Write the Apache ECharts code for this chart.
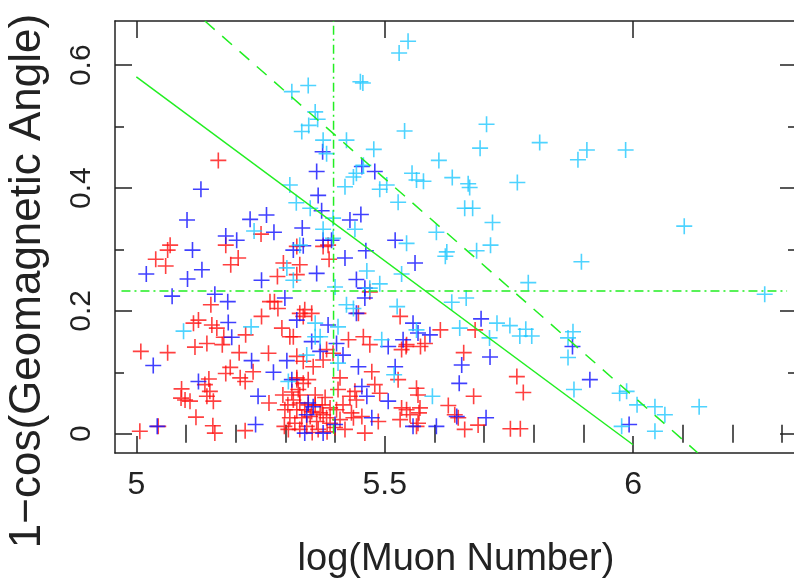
<!DOCTYPE html>
<html>
<head>
<meta charset="utf-8">
<script src="https://cdn.jsdelivr.net/npm/echarts@6/dist/echarts.min.js"></script>
<style>
  html, body { margin: 0; padding: 0; background: #fff; }
  #chart { width: 794px; height: 583px; }
</style>
</head>
<body>
<div id="chart"></div>
<script>
// tick positions
const xLabelTicks = [5, 5.5, 6];
const xMinorTicks = [5.1, 5.2, 5.3, 5.4, 5.6, 5.7, 5.8, 5.9, 6.1, 6.2, 6.3];
const yLabelTicks = [0, 0.2, 0.4, 0.6];
const yMinorTicks = [0.1, 0.3, 0.5];

// events: [log(muon number), 1-cos(geomagnetic angle)]
const redPoints = [
  [5.165, 0.445], [5.251, 0.325], [5.068, 0.307], [5.063, 0.299], [5.180, 0.307],
  [5.039, 0.284], [5.059, 0.273], [5.205, 0.286], [5.190, 0.275], [5.284, 0.256],
  [5.150, 0.210], [5.278, 0.215], [5.285, 0.204], [5.125, 0.185], [5.115, 0.180],
  [5.152, 0.177], [5.162, 0.172], [5.252, 0.191], [5.220, 0.161], [5.293, 0.172],
  [5.176, 0.157], [5.142, 0.147], [5.118, 0.141], [5.173, 0.145], [5.009, 0.134],
  [5.063, 0.132], [5.207, 0.132], [5.266, 0.131], [5.316, 0.158], [5.189, 0.108],
  [5.180, 0.098], [5.235, 0.101], [5.209, 0.091], [5.219, 0.085], [5.146, 0.089],
  [5.138, 0.080], [5.091, 0.073], [5.148, 0.069], [5.090, 0.058], [5.108, 0.053],
  [5.155, 0.053], [5.267, 0.050], [5.120, 0.027], [5.154, 0.013], [5.158, 0.001],
  [5.007, 0.004], [5.044, 0.012], [5.219, 0.005], [5.298, 0.012], [5.306, 0.007],
  [5.323, 0.088], [5.386, 0.307], [5.376, 0.305], [5.323, 0.305], [5.388, 0.284],
  [5.329, 0.275], [5.323, 0.259], [5.470, 0.231], [5.531, 0.191], [5.339, 0.202],
  [5.329, 0.196], [5.353, 0.196], [5.457, 0.158], [5.309, 0.158], [5.427, 0.153],
  [5.544, 0.145], [5.534, 0.137], [5.470, 0.145], [5.383, 0.137], [5.396, 0.131],
  [5.323, 0.126], [5.376, 0.120], [5.356, 0.109], [5.336, 0.118], [5.474, 0.101],
  [5.527, 0.088], [5.323, 0.091], [5.336, 0.082], [5.346, 0.088], [5.410, 0.091],
  [5.406, 0.072], [5.326, 0.072], [5.480, 0.080], [5.490, 0.066], [5.443, 0.055],
  [5.534, 0.042], [5.416, 0.047], [5.403, 0.039], [5.316, 0.055], [5.329, 0.050],
  [5.346, 0.047], [5.360, 0.047], [5.339, 0.039], [5.353, 0.036], [5.370, 0.034],
  [5.376, 0.031], [5.323, 0.039], [5.333, 0.026], [5.350, 0.028], [5.363, 0.020],
  [5.383, 0.026], [5.390, 0.017], [5.319, 0.017], [5.343, 0.012], [5.366, 0.007],
  [5.437, 0.026], [5.454, 0.028], [5.487, 0.020], [5.460, 0.001], [5.433, 0.034],
  [5.551, 0.031], [5.567, 0.017], [5.430, 0.061], [5.440, 0.069], [5.682, 0.169],
  [5.612, 0.169], [5.581, 0.147], [5.572, 0.142], [5.543, 0.142], [5.659, 0.132],
  [5.766, 0.093], [5.779, 0.067], [5.679, 0.061], [5.564, 0.074], [5.567, 0.063],
  [5.628, 0.046], [5.571, 0.042], [5.569, 0.034], [5.544, 0.039], [5.641, 0.031],
  [5.648, 0.026], [5.531, 0.023], [5.661, 0.007], [5.688, 0.014], [5.753, 0.008],
  [5.773, 0.008], [5.564, 0.012], [5.098, 0.055], [5.142, 0.061], [5.269, 0.215],
  [5.296, 0.278], [5.447, 0.196], [5.336, 0.191], [5.299, 0.039], [5.309, 0.026],
  [5.400, 0.010], [5.420, 0.007], [5.329, 0.007], [5.354, 0.002], [5.384, 0.003],
  [5.305, 0.047], [5.410, 0.023], [5.295, 0.063], [5.380, 0.059], [5.313, 0.068],
  [5.360, 0.063], [5.374, 0.047], [5.329, 0.063], [5.390, 0.042]
];
const bluePoints = [
  [5.130, 0.398], [5.102, 0.348], [5.229, 0.349], [5.262, 0.356], [5.277, 0.328],
  [5.113, 0.299], [5.180, 0.322], [5.202, 0.315], [5.020, 0.260], [5.103, 0.252],
  [5.132, 0.267], [5.252, 0.250], [5.072, 0.224], [5.158, 0.227], [5.184, 0.215],
  [5.299, 0.221], [5.185, 0.181], [5.192, 0.157], [5.034, 0.111], [5.232, 0.119],
  [5.303, 0.119], [5.276, 0.100], [5.125, 0.085], [5.245, 0.061], [5.042, 0.012],
  [5.240, 0.015], [5.375, 0.459], [5.454, 0.435], [5.480, 0.427], [5.366, 0.388],
  [5.373, 0.363], [5.430, 0.348], [5.452, 0.357], [5.334, 0.335], [5.376, 0.315],
  [5.393, 0.315], [5.521, 0.315], [5.316, 0.299], [5.420, 0.286], [5.462, 0.298],
  [5.363, 0.261], [5.561, 0.278], [5.443, 0.251], [5.460, 0.237], [5.460, 0.221],
  [5.443, 0.196], [5.323, 0.185], [5.386, 0.177], [5.557, 0.180], [5.353, 0.150],
  [5.403, 0.147], [5.507, 0.142], [5.537, 0.153], [5.370, 0.134], [5.416, 0.128],
  [5.447, 0.109], [5.521, 0.109], [5.313, 0.088], [5.454, 0.077], [5.464, 0.061],
  [5.507, 0.053], [5.346, 0.050], [5.356, 0.044], [5.343, 0.031], [5.339, 0.001],
  [5.376, 0.001], [5.400, 0.015], [5.474, 0.026], [5.557, 0.012], [5.694, 0.187],
  [5.591, 0.161], [5.712, 0.125], [5.655, 0.112], [5.650, 0.082], [5.645, 0.028],
  [5.704, 0.026], [5.604, 0.012], [5.878, 0.142], [5.913, 0.088], [5.992, 0.015],
  [5.363, 0.427], [5.336, 0.306], [5.567, 0.164]
];
const cyanPoints = [
  [5.547, 0.639], [5.529, 0.620], [5.451, 0.573], [5.456, 0.571], [5.313, 0.557],
  [5.346, 0.567], [5.360, 0.524], [5.365, 0.512], [5.347, 0.502], [5.333, 0.492],
  [5.540, 0.493], [5.705, 0.504], [5.812, 0.474], [5.692, 0.465], [5.423, 0.478],
  [5.376, 0.478], [5.383, 0.456], [5.478, 0.463], [5.609, 0.445], [5.457, 0.437],
  [5.443, 0.424], [5.437, 0.418], [5.309, 0.405], [5.420, 0.402], [5.490, 0.398],
  [5.504, 0.405], [5.555, 0.424], [5.564, 0.413], [5.578, 0.411], [5.636, 0.417],
  [5.668, 0.407], [5.671, 0.401], [5.767, 0.409], [5.527, 0.377], [5.322, 0.376],
  [5.661, 0.367], [5.677, 0.367], [5.717, 0.344], [5.889, 0.446], [5.907, 0.462],
  [5.985, 0.462], [6.103, 0.338], [5.604, 0.328], [5.713, 0.307], [5.544, 0.310],
  [5.625, 0.296], [5.622, 0.289], [5.685, 0.298], [5.896, 0.280], [5.789, 0.246],
  [6.265, 0.227], [5.635, 0.214], [5.664, 0.221], [5.651, 0.172], [5.711, 0.156],
  [5.726, 0.180], [5.752, 0.176], [5.784, 0.170], [5.772, 0.159], [5.796, 0.159],
  [5.879, 0.166], [5.869, 0.156], [5.869, 0.124], [5.881, 0.072], [5.596, 0.061],
  [5.973, 0.066], [5.987, 0.069], [6.008, 0.047], [6.044, 0.044], [6.064, 0.031],
  [6.133, 0.044], [5.977, 0.012], [6.044, 0.004], [5.350, 0.367], [5.396, 0.351],
  [5.440, 0.333], [5.237, 0.330], [5.376, 0.333], [5.396, 0.318], [5.329, 0.307],
  [5.316, 0.250], [5.464, 0.265], [5.534, 0.260], [5.490, 0.244], [5.400, 0.239],
  [5.470, 0.237], [5.423, 0.210], [5.437, 0.204], [5.525, 0.207], [5.360, 0.180],
  [5.406, 0.174], [5.564, 0.169], [5.370, 0.158], [5.360, 0.158], [5.494, 0.153],
  [5.343, 0.128], [5.406, 0.115], [5.519, 0.096], [5.095, 0.167], [5.231, 0.174],
  [5.306, 0.085], [5.303, 0.270]
];

// guide lines
const fitLine = [[5.0, 0.581], [6.0, -0.018]];
const cutLine = [[5.138, 0.672], [6.13, -0.031]];
const muonCut = [[5.397, 0], [5.397, 0.672]];
const angleCut = [[4.97, 0.2325], [6.31, 0.2325]];

const xRange = [4.957, 6.33];
const yRange = [-0.0314, 0.672];

const plus = "path://M7.2,0H8.8V7.2H16V8.8H8.8V16H7.2V8.8H0V7.2H7.2Z";
const frameColor = "#222";
const textColor = "#222";
const green = "#22ee22";
const font = "Liberation Sans";

function frameAxis(pos, ticks, len, extra) {
  return Object.assign({
    type: "value",
    position: pos,
    min: pos === "bottom" || pos === "top" ? xRange[0] : yRange[0],
    max: pos === "bottom" || pos === "top" ? xRange[1] : yRange[1],
    splitLine: { show: false },
    axisLine: { show: true, onZero: false, lineStyle: { color: frameColor, width: 1.5 } },
    axisTick: { show: true, inside: true, length: len, customValues: ticks,
      lineStyle: { color: frameColor, width: 1.5 } },
    axisLabel: { show: false },
  }, extra || {});
}

function scatter(name, data, color) {
  return {
    name: name,
    type: "scatter",
    data: data,
    symbol: plus,
    symbolSize: 16,
    itemStyle: { color: color },
    silent: true,
  };
}

function guide(data, type, width) {
  return {
    type: "line",
    data: data,
    symbol: "none",
    silent: true,
    lineStyle: { color: green, width: width, type: type },
    z: 5,
  };
}

const chart = echarts.init(document.getElementById("chart"));
chart.setOption({
  animation: false,
  backgroundColor: "#fff",
  grid: { left: 115, right: -3, top: 21, bottom: 130, outerBoundsMode: "none", containLabel: false },
  graphic: [
    {
      // y axis title, centred lower than the plot frame as in the original
      type: "text",
      x: 28,
      y: 281,
      rotation: Math.PI / 2,
      silent: true,
      style: {
        text: "1\u2212cos(Geomagnetic Angle)",
        fontSize: 44,
        fontFamily: font,
        fill: textColor,
        align: "center",
        verticalAlign: "middle",
      },
    },
  ],
  xAxis: [
    frameAxis("bottom", xLabelTicks, 17, {
      name: "log(Muon Number)",
      nameLocation: "middle",
      nameGap: 88,
      nameTextStyle: { fontSize: 38, color: textColor, fontFamily: font },
      axisLabel: { show: true, customValues: xLabelTicks, margin: 16,
        fontSize: 32, color: textColor, fontFamily: font },
    }),
    frameAxis("bottom", xMinorTicks, 9, { axisLine: { show: false } }),
    frameAxis("top", xLabelTicks, 17),
    frameAxis("top", xMinorTicks, 9, { axisLine: { show: false } }),
  ],
  yAxis: [
    frameAxis("left", yLabelTicks, 17, {
      axisLabel: { show: true, customValues: yLabelTicks, margin: 18, rotate: 90,
        fontSize: 30, color: textColor, fontFamily: font },
    }),
    frameAxis("left", yMinorTicks, 9, { axisLine: { show: false } }),
    frameAxis("right", yLabelTicks, 17),
    frameAxis("right", yMinorTicks, 9, { axisLine: { show: false } }),
  ],
  series: [
    scatter("red", redPoints, "#ff1010"),
    scatter("blue", bluePoints, "#1010ff"),
    scatter("cyan", cyanPoints, "#22c8ff"),
    guide(fitLine, "solid", 1.5),
    guide(cutLine, [13, 10], 1.5),
    guide(muonCut, [9, 4, 2, 4], 1.5),
    guide(angleCut, [9, 4, 2, 4], 1.5),
  ],
});
</script>
</body>
</html>
